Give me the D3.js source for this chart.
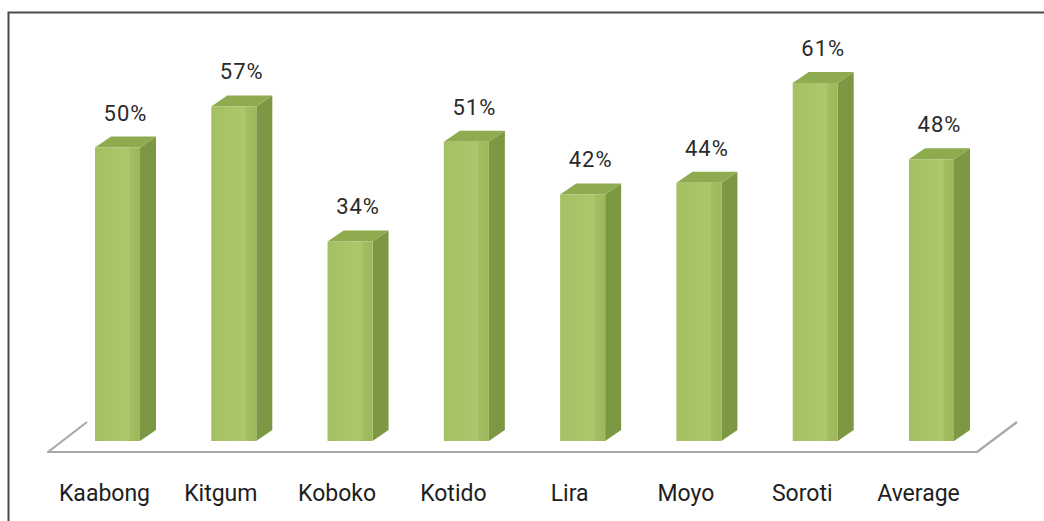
<!DOCTYPE html>
<html>
<head>
<meta charset="utf-8">
<script src="https://cdn.jsdelivr.net/npm/d3@7"></script>
<style>
  body { margin: 0; background: #fff; }
  svg { display: block; }
</style>
</head>
<body>
<script>
var categories = ["Kaabong", "Kitgum", "Koboko", "Kotido", "Lira", "Moyo", "Soroti", "Average"];
var values = [50, 57, 34, 51, 42, 44, 61, 48];
var valueLabels = ["50%", "57%", "34%", "51%", "42%", "44%", "61%", "48%"];

var w = 1044, h = 521;
var dx = 16, dy = 11; // 3d depth offset

var svg = d3.select("body").append("svg")
    .attr("width", w)
    .attr("height", h);

var defs = svg.append("defs");
var grad = defs.append("linearGradient")
    .attr("id", "front")
    .attr("x1", "0").attr("x2", "1").attr("y1", "0").attr("y2", "0");
grad.append("stop").attr("offset", "0").attr("stop-color", "#a3c062");
grad.append("stop").attr("offset", "0.75").attr("stop-color", "#acc86c");
grad.append("stop").attr("offset", "0.78").attr("stop-color", "#a2be60");
grad.append("stop").attr("offset", "1").attr("stop-color", "#9db85b");

// frame (top + left only)
svg.append("path")
    .attr("d", "M8.5,521 L8.5,12.5 L1044,12.5")
    .attr("fill", "none")
    .attr("stroke", "#4a4a4a")
    .attr("stroke-width", 2);

var x = d3.scaleBand()
    .domain(categories)
    .range([95, 954])
    .paddingInner(0.613)
    .paddingOuter(0);

var y = d3.scaleLinear()
    .domain([0, 100])
    .range([441, -146]);

// floor
var floorFront = 452, floorBack = 422;
svg.append("path")
    .attr("d", "M87," + floorBack + " L48," + floorFront + " L977," + floorFront + " L1017," + floorBack)
    .attr("fill", "none")
    .attr("stroke", "#a8a8a8")
    .attr("stroke-width", 2.2)
    .attr("stroke-linejoin", "round");

var data = categories.map(function (c, i) {
  return { name: c, value: values[i], label: valueLabels[i] };
});

var bw = x.bandwidth();
var g = svg.selectAll(".bar")
    .data(data)
    .enter().append("g")
    .attr("class", "bar");

// side face
g.append("path")
    .attr("d", function (d) {
      var x0 = x(d.name) + bw, yt = y(d.value), yb = y(0);
      return "M" + x0 + "," + yt + " L" + (x0 + dx) + "," + (yt - dy) +
        " L" + (x0 + dx) + "," + (yb - dy) + " L" + x0 + "," + yb + "Z";
    })
    .attr("fill", "#7d9843");

// top face
g.append("path")
    .attr("d", function (d) {
      var x0 = x(d.name), yt = y(d.value);
      return "M" + x0 + "," + yt + " L" + (x0 + dx) + "," + (yt - dy) +
        " L" + (x0 + bw + dx) + "," + (yt - dy) + " L" + (x0 + bw) + "," + yt + "Z";
    })
    .attr("fill", "#8eab4f");

// front face
g.append("rect")
    .attr("x", function (d) { return x(d.name); })
    .attr("y", function (d) { return y(d.value); })
    .attr("width", bw)
    .attr("height", function (d) { return y(0) - y(d.value); })
    .attr("fill", "url(#front)");

// value labels
g.append("text")
    .attr("x", function (d) { return x(d.name) + bw / 2 + dx / 2; })
    .attr("y", function (d) { return y(d.value) - 27; })
    .attr("text-anchor", "middle")
    .attr("font-family", "Roboto, sans-serif")
    .attr("font-size", 22)
    .attr("letter-spacing", 1)
    .attr("fill", "#2a2a2a")
    .text(function (d) { return d.label; });

// category labels
svg.selectAll(".cat")
    .data(data)
    .enter().append("text")
    .attr("class", "cat")
    .attr("x", function (d) { return x(d.name) + bw / 2 - 13; })
    .attr("y", 501)
    .attr("text-anchor", "middle")
    .attr("font-family", "Roboto, sans-serif")
    .attr("font-size", 23)
    .attr("fill", "#1e1e1e")
    .text(function (d) { return d.name; });
</script>
</body>
</html>
